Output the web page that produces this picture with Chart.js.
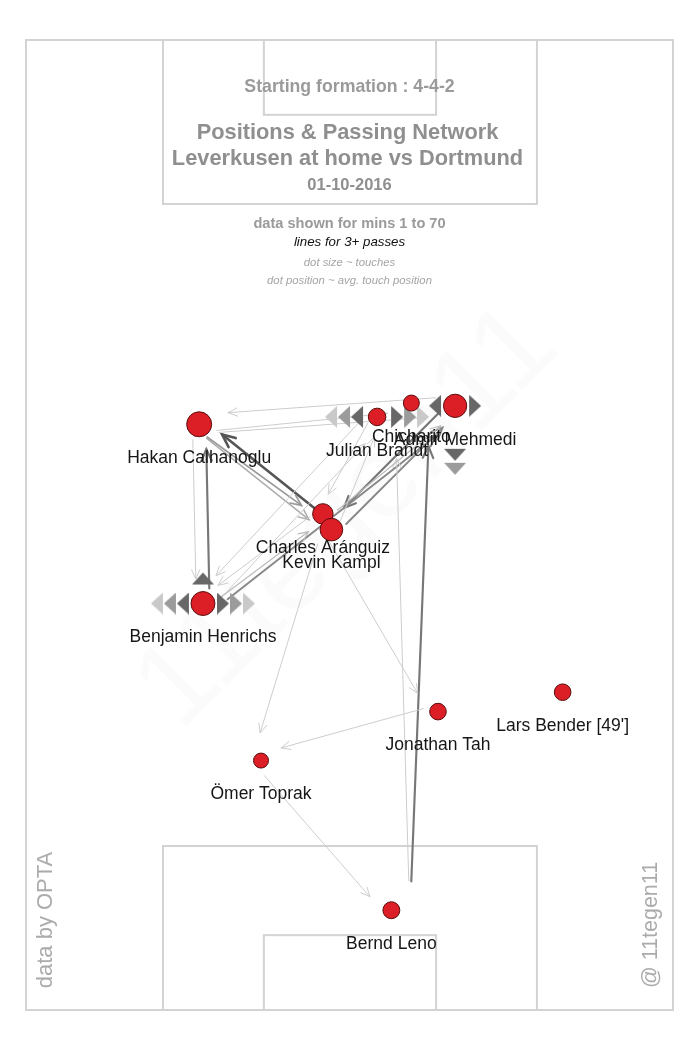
<!DOCTYPE html>
<html>
<head>
<meta charset="utf-8">
<script src="https://cdn.jsdelivr.net/npm/chart.js@4.4.0/dist/chart.umd.min.js"></script>
<style>
  html, body { margin: 0; padding: 0; background: #fff; }
  canvas { display: block; }
</style>
</head>
<body>
<canvas id="pitch" width="700" height="1050"></canvas>
<script>
// average touch position in metres: x across (0-68), y up the pitch (0-105)
const players = ['Bernd Leno', 'Ömer Toprak', 'Jonathan Tah', "Lars Bender [49']", 'Benjamin Henrichs',
  'Charles Aránguiz', 'Kevin Kampl', 'Hakan Calhanoglu', 'Julian Brandt', 'Chicharito', 'Admir Mehmedi'];
const playerX = [38.4, 24.7, 43.3, 56.4, 18.6, 31.2, 32.1, 18.2, 36.9, 40.5, 45.1];
const playerY = [10.8, 27.0, 32.3, 34.4, 44.0, 53.7, 52.0, 63.4, 64.2, 65.7, 65.4];
const touches = [28, 22, 27, 27, 56, 41, 50, 61, 30, 25, 53];

// passes between players (3+ only)
const passFrom = ['Kevin Kampl', 'Benjamin Henrichs', 'Hakan Calhanoglu', 'Hakan Calhanoglu', 'Hakan Calhanoglu',
  'Admir Mehmedi', 'Kevin Kampl', 'Benjamin Henrichs', 'Bernd Leno', 'Bernd Leno', 'Admir Mehmedi',
  'Hakan Calhanoglu', 'Hakan Calhanoglu', 'Kevin Kampl', 'Jonathan Tah', 'Charles Aránguiz', 'Ömer Toprak',
  'Charles Aránguiz', 'Benjamin Henrichs', 'Julian Brandt', 'Kevin Kampl', 'Julian Brandt', 'Benjamin Henrichs',
  'Charles Aránguiz'];
const passTo = ['Hakan Calhanoglu', 'Hakan Calhanoglu', 'Benjamin Henrichs', 'Charles Aránguiz', 'Kevin Kampl',
  'Kevin Kampl', 'Admir Mehmedi', 'Admir Mehmedi', 'Chicharito', 'Julian Brandt', 'Hakan Calhanoglu',
  'Admir Mehmedi', 'Chicharito', 'Ömer Toprak', 'Ömer Toprak', 'Jonathan Tah', 'Bernd Leno',
  'Benjamin Henrichs', 'Julian Brandt', 'Benjamin Henrichs', 'Julian Brandt', 'Charles Aránguiz', 'Charles Aránguiz',
  'Admir Mehmedi'];
const passCount = [10, 8, 3, 6, 5, 8, 7, 7, 8, 3, 3, 3, 3, 3, 3, 3, 3, 3, 3, 3, 3, 3, 4, 4];

// direction markers next to some players
const markerPlayer = ['Julian Brandt', 'Julian Brandt', 'Admir Mehmedi', 'Admir Mehmedi', 'Admir Mehmedi',
  'Benjamin Henrichs', 'Benjamin Henrichs', 'Benjamin Henrichs'];
const markerDir = ['left', 'right', 'left', 'right', 'down', 'left', 'right', 'up'];
const markerCount = [3, 3, 1, 1, 2, 3, 3, 1];

const FONT = '"Liberation Sans", Arial, sans-serif';
const UX = 647 / 68, UY = 970 / 105; // px per metre for this canvas
const shades = ['#676767', '#9b9b9b', '#c9c9c9'];

function triangleImage(color) {
  const c = document.createElement('canvas');
  c.width = 14; c.height = 22;
  const g = c.getContext('2d');
  g.fillStyle = color;
  g.beginPath(); g.moveTo(1, 0); g.lineTo(13, 11); g.lineTo(1, 22); g.closePath(); g.fill();
  return c;
}
const triImgs = shades.map(triangleImage);

const markerPts = [], markerStyle = [], markerRot = [];
markerPlayer.forEach((name, i) => {
  const p = players.indexOf(name);
  for (let k = 0; k < markerCount[i]; k++) {
    let x = playerX[p], y = playerY[p], rot = 0;
    if (markerDir[i] === 'left') { x -= (20 + 13 * k) / UX; rot = 180; }
    if (markerDir[i] === 'right') { x += (20 + 13 * k) / UX; rot = 0; }
    if (markerDir[i] === 'up') { y += (25 + 13 * k) / UY; rot = 270; }
    if (markerDir[i] === 'down') { y -= (49 + 14 * k) / UY; rot = 90; }
    markerPts.push({ x, y });
    markerStyle.push(triImgs[k]);
    markerRot.push(rot);
  }
});

const dotRadius = touches.map(t => 1.6 * Math.sqrt(t));

function passStyle(n) {
  const t = Math.min(1, (n - 3) / 7);
  const g = Math.round(205 - t * 120);
  return { color: `rgb(${g},${g},${g})`, width: 1 + t * 1.6, head: 10 + t * 4 };
}

function drawArrow(ctx, x1, y1, x2, y2, st) {
  ctx.strokeStyle = st.color;
  ctx.lineWidth = st.width;
  ctx.beginPath(); ctx.moveTo(x1, y1); ctx.lineTo(x2, y2); ctx.stroke();
  const a = Math.atan2(y2 - y1, x2 - x1);
  ctx.beginPath();
  ctx.moveTo(x2 - st.head * Math.cos(a - 0.42), y2 - st.head * Math.sin(a - 0.42));
  ctx.lineTo(x2, y2);
  ctx.lineTo(x2 - st.head * Math.cos(a + 0.42), y2 - st.head * Math.sin(a + 0.42));
  ctx.stroke();
}

function text(ctx, str, x, y, font, color) {
  ctx.font = font;
  ctx.fillStyle = color;
  ctx.fillText(str, x, y);
}

const pitchPlugin = {
  id: 'pitch',
  beforeDatasetsDraw(chart) {
    const { ctx, scales: { x, y } } = chart;
    const px = v => x.getPixelForValue(v), py = v => y.getPixelForValue(v);
    ctx.save();

    // watermark
    ctx.save();
    ctx.translate(348, 518);
    ctx.rotate(-Math.PI / 4);
    ctx.textAlign = 'center'; ctx.textBaseline = 'middle';
    text(ctx, '11tegen11', 0, 0, '118px ' + FONT, 'rgba(0,0,0,0.016)');
    ctx.restore();

    // pitch markings
    ctx.strokeStyle = '#d3d3d3';
    ctx.lineWidth = 2;
    const box = (x0, y0, x1, y1) => ctx.strokeRect(px(x0), py(y1), px(x1) - px(x0), py(y0) - py(y1));
    box(0, 0, 68, 105);
    box(14.4, 87.25, 53.7, 105);
    box(25.0, 96.9, 43.1, 105);
    box(14.4, 0, 53.7, 17.75);
    box(25.0, 0, 43.1, 8.1);

    // heading
    ctx.textAlign = 'center'; ctx.textBaseline = 'middle';
    const cx = (px(0) + px(68)) / 2;
    text(ctx, 'Starting formation : 4-4-2', cx, 87, 'bold 17.7px ' + FONT, '#9a9a9a');
    text(ctx, 'Positions & Passing Network', cx - 2, 133, 'bold 21.8px ' + FONT, '#8f8f8f');
    text(ctx, 'Leverkusen at home vs Dortmund', cx - 2, 159, 'bold 21.8px ' + FONT, '#8f8f8f');
    text(ctx, '01-10-2016', cx, 185, 'bold 16.5px ' + FONT, '#8f8f8f');
    text(ctx, 'data shown for mins 1 to 70', cx, 224, 'bold 14.6px ' + FONT, '#9a9a9a');
    text(ctx, 'lines for 3+ passes', cx, 242, 'italic 13.3px ' + FONT, '#111');
    text(ctx, 'dot size ~ touches', cx, 263, 'italic 11.3px ' + FONT, '#a5a5a5');
    text(ctx, 'dot position ~ avg. touch position', cx, 281, 'italic 11.3px ' + FONT, '#a5a5a5');

    // side credits
    ctx.save();
    ctx.translate(46, 920); ctx.rotate(-Math.PI / 2);
    text(ctx, 'data by OPTA', 0, 0, '22px ' + FONT, '#ababab');
    ctx.restore();
    ctx.save();
    ctx.translate(651, 925); ctx.rotate(-Math.PI / 2);
    text(ctx, '@ 11tegen11', 0, 0, '21.5px ' + FONT, '#ababab');
    ctx.restore();

    // passes: offset to the right of travel, trimmed at both ends
    ctx.lineCap = 'round';
    passFrom.forEach((from, i) => {
      const a = players.indexOf(from), b = players.indexOf(passTo[i]);
      const ax = px(playerX[a]), ay = py(playerY[a]);
      const bx = px(playerX[b]), by = py(playerY[b]);
      const len = Math.hypot(bx - ax, by - ay);
      const ux = (bx - ax) / len, uy = (by - ay) / len;
      const off = Math.max(5, 0.037 * len);
      const nx = -uy * off, ny = ux * off;
      const s = 0.05 * len + 0.5 * dotRadius[a];
      const e = 8 + 0.06 * len + 0.5 * dotRadius[b];
      drawArrow(ctx, ax + ux * s + nx, ay + uy * s + ny, bx - ux * e + nx, by - uy * e + ny, passStyle(passCount[i]));
    });
    ctx.restore();
  },
  afterDatasetsDraw(chart) {
    const { ctx, scales: { x, y } } = chart;
    ctx.save();
    ctx.textAlign = 'center'; ctx.textBaseline = 'middle';
    players.forEach((name, i) => {
      text(ctx, name, x.getPixelForValue(playerX[i]), y.getPixelForValue(playerY[i]) + 34, '17.5px ' + FONT, '#161616');
    });
    ctx.restore();
  }
};

new Chart(document.getElementById('pitch'), {
  type: 'scatter',
  data: {
    datasets: [{
      label: 'players',
      data: players.map((p, i) => ({ x: playerX[i], y: playerY[i] })),
      pointRadius: dotRadius,
      pointBackgroundColor: '#dc1f26',
      pointBorderColor: '#5a0c0c',
      pointBorderWidth: 1,
      order: 0
    }, {
      label: 'direction',
      data: markerPts,
      pointStyle: markerStyle,
      pointRotation: markerRot,
      pointRadius: 8,
      order: 1
    }]
  },
  options: {
    responsive: false,
    devicePixelRatio: 1,
    animation: false,
    events: [],
    layout: { padding: { left: 26, right: 27, top: 40, bottom: 40 } },
    scales: {
      x: { type: 'linear', min: 0, max: 68, display: false },
      y: { type: 'linear', min: 0, max: 105, display: false }
    },
    plugins: { legend: { display: false }, tooltip: { enabled: false } }
  },
  plugins: [pitchPlugin]
});
</script>
</body>
</html>
